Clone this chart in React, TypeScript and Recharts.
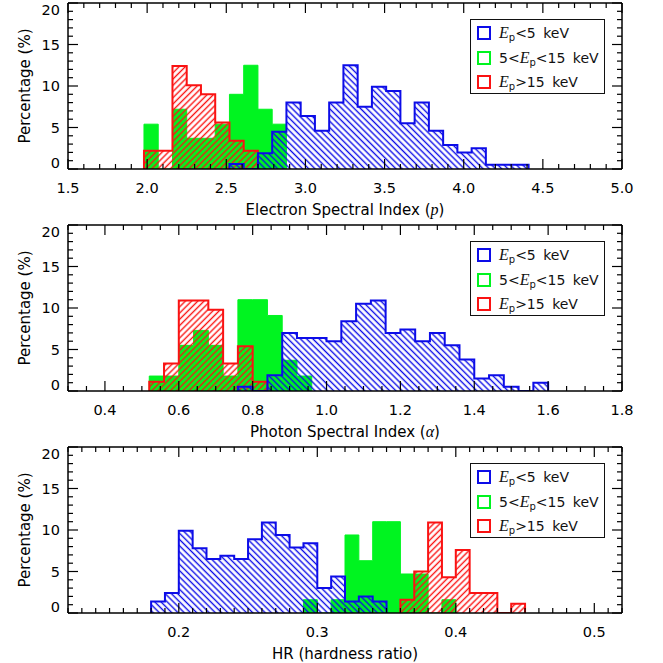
import React from "react";
import { ComposedChart, Area, XAxis, YAxis, Legend } from "recharts";

const BLUE = "#0c0ce8";
const GREEN = "#00f420";
const RED = "#fa1212";
const FONT = "DejaVu Sans";

// percentage axis, shared by all three panels
const Y_MAJOR = [0, 5, 10, 15, 20];
const Y_TICKS = [0, 1, 2, 3, 4, 5, 6, 7, 8, 9, 10, 11, 12, 13, 14, 15, 16, 17, 18, 19, 20];

// electron spectral index p (bin edges, then % per bin; null = bin not drawn)
const P_EDGES = [1.98, 2.07, 2.16, 2.25, 2.34, 2.43, 2.52, 2.61, 2.7, 2.79, 2.88, 2.97, 3.06, 3.15, 3.24, 3.33, 3.42, 3.51, 3.6, 3.69, 3.78, 3.87, 3.96, 4.05, 4.14, 4.23, 4.32, 4.41];
const P_LOW = [null, null, null, null, null, null, 0.6, 0, 1.9, 4.5, 8.0, 6.4, 4.6, 8.0, 12.5, 7.5, 9.9, 9.4, 5.5, 8.0, 4.6, 2.9, 2.0, 2.5, 0.5, 0.5, 0.5];
const P_MID = [5.4, 0, 7.2, 3.7, 3.7, 5.4, 9.0, 12.5, 7.2, 5.4];
const P_HIGH = [2.2, 2.2, 12.4, 10.1, 9.0, 5.6, 3.4, 2.2];
const P_TICKS = [1.5, 2.0, 2.5, 3.0, 3.5, 4.0, 4.5, 5.0];

// photon spectral index alpha
const A_EDGES = [0.52, 0.56, 0.6, 0.64, 0.68, 0.72, 0.76, 0.8, 0.84, 0.88, 0.92, 0.96, 1.0, 1.04, 1.08, 1.12, 1.16, 1.2, 1.24, 1.28, 1.32, 1.36, 1.4, 1.44, 1.48, 1.52, 1.56, 1.6];
const A_LOW = [null, null, null, null, null, null, 0.5, 0, 1.9, 7.0, 6.4, 6.4, 6.0, 8.4, 10.5, 10.9, 7.0, 7.4, 6.0, 7.0, 5.5, 3.8, 1.5, 1.9, 0.5, 0, 1.0];
const A_MID = [1.8, 1.8, 5.5, 7.3, 5.5, 1.8, 11.0, 11.0, 9.1, 3.7, 1.8];
const A_HIGH = [1.1, 3.3, 10.9, 10.9, 9.8, 3.3, 5.4, 1.1];
const A_TICKS = [0.4, 0.6, 0.8, 1.0, 1.2, 1.4, 1.6, 1.8];

// hardness ratio
const HR_EDGES = [0.18, 0.19, 0.2, 0.21, 0.22, 0.23, 0.24, 0.25, 0.26, 0.27, 0.28, 0.29, 0.3, 0.31, 0.32, 0.33, 0.34, 0.35, 0.36, 0.37, 0.38, 0.39, 0.4, 0.41, 0.42, 0.43, 0.44, 0.45];
const HR_LOW = [1.4, 2.4, 9.9, 7.8, 6.5, 6.9, 6.5, 8.9, 10.9, 9.4, 7.9, 8.4, 3.0, 4.4, 1.4, 2.0, 1.4];
const HR_MID = [null, null, null, null, null, null, null, null, null, null, null, 1.6, 0, 1.6, 9.4, 6.3, 11.0, 11.0, 4.7, 4.7, 0, 1.6];
const HR_HIGH = [null, null, null, null, null, null, null, null, null, null, null, null, null, null, null, null, null, null, 1.6, 5.0, 10.9, 4.3, 7.6, 2.4, 2.4, 0, 1.1];
const HR_TICKS = [0.2, 0.3, 0.4, 0.5];

type Pt = { x: number; v: number };

// turn bins into stepAfter points: rise at the first edge, drop at the last
function stepPoints(edges: number[], values: (number | null)[]): Pt[] {
  const first = values.findIndex((v) => v != null);
  let last = values.length - 1;
  while (last > first && values[last] == null) last--;
  const pts: Pt[] = [{ x: edges[first], v: 0 }];
  for (let i = first; i <= last; i++) pts.push({ x: edges[i], v: values[i] as number });
  pts.push({ x: edges[last + 1], v: 0 });
  return pts;
}

function minorTicks(domain: [number, number], step: number) {
  const n = Math.round((domain[1] - domain[0]) / step);
  return Array.from({ length: n + 1 }, (_, i) => +(domain[0] + i * step).toFixed(4));
}

const near = (list: number[], v: number) => list.some((m) => Math.abs(m - v) < 1e-6);

const tickLine = { stroke: "#000", strokeWidth: 1.2 };
const frameLine = { stroke: "#000", strokeWidth: 1.5 };

function Ep() {
  return (
    <>
      <i style={{ fontFamily: "Liberation Serif", fontSize: 16 }}>E</i>
      <sub style={{ fontSize: 10, verticalAlign: -3, lineHeight: 0 }}>p</sub>
    </>
  );
}

const LEGEND_ROWS = [
  { color: BLUE, label: <><Ep />&lt;5 keV</> },
  { color: GREEN, label: <>5&lt;<Ep />&lt;15 keV</> },
  { color: RED, label: <><Ep />&gt;15 keV</> },
];

function LegendBox() {
  return (
    <div
      style={{
        position: "relative",
        width: 135,
        height: 75,
        boxSizing: "border-box",
        border: "1.5px solid #111",
        background: "#fff",
        fontFamily: FONT,
        fontSize: 14,
        color: "#111",
      }}
    >
      {LEGEND_ROWS.map((r, i) => (
        <div
          key={i}
          style={{ position: "absolute", left: 6, top: 5 + i * 24.5, height: 16, display: "flex", alignItems: "center", whiteSpace: "nowrap", wordSpacing: 3 }}
        >
          <span style={{ width: 14, height: 14, boxSizing: "border-box", border: `2.5px solid ${r.color}`, marginRight: 8 }} />
          <span>{r.label}</span>
        </div>
      ))}
    </div>
  );
}

type PanelProps = {
  idx: number;
  edges: number[];
  low: (number | null)[];
  mid: (number | null)[];
  high: (number | null)[];
  domain: [number, number];
  majors: number[];
  minorStep: number;
  title: React.ReactNode;
};

function Panel({ idx, edges, low, mid, high, domain, majors, minorStep, title }: PanelProps) {
  const xTicks = minorTicks(domain, minorStep);
  const lowId = `hatch-low-${idx}`;
  const highId = `hatch-high-${idx}`;

  const bottomTick = (p: any) => {
    const major = near(majors, p.payload.value);
    return (
      <g>
        <line x1={p.x} x2={p.x} y1={p.y} y2={p.y - (major ? 10 : 5)} {...tickLine} />
        {major && (
          <text x={p.x} y={p.y + 24} textAnchor="middle" fontFamily={FONT} fontSize={14.5} fill="#000">
            {p.payload.value.toFixed(1)}
          </text>
        )}
      </g>
    );
  };
  const topTick = (p: any) => {
    const major = near(majors, p.payload.value);
    return <line x1={p.x} x2={p.x} y1={p.y} y2={p.y + (major ? 10 : 5)} {...tickLine} />;
  };
  const leftTick = (p: any) => {
    const v = p.payload.value;
    const major = near(Y_MAJOR, v);
    const shift = v === 0 ? -6 : v === 20 ? 7 : 0;
    return (
      <g>
        <line x1={p.x} x2={p.x + (major ? 10 : 5)} y1={p.y} y2={p.y} {...tickLine} />
        {major && (
          <text x={p.x - 8} y={p.y + shift} dy="0.36em" textAnchor="end" fontFamily={FONT} fontSize={14.5} fill="#000">
            {v}
          </text>
        )}
      </g>
    );
  };
  const rightTick = (p: any) => {
    const major = near(Y_MAJOR, p.payload.value);
    return <line x1={p.x} x2={p.x - (major ? 10 : 5)} y1={p.y} y2={p.y} {...tickLine} />;
  };

  return (
    <div style={{ position: "absolute", left: 0, top: idx * 222 }}>
      <ComposedChart width={663} height={222} margin={{ top: 2, right: 40, bottom: 0, left: 0 }}>
        <defs>
          <pattern id={lowId} patternUnits="userSpaceOnUse" width={4.4} height={4.4} patternTransform="rotate(-45)">
            <line x1={2.2} x2={2.2} y1={0} y2={4.4} stroke={BLUE} strokeWidth={1.4} />
          </pattern>
          <pattern id={highId} patternUnits="userSpaceOnUse" width={4.4} height={4.4} patternTransform="rotate(45)">
            <line x1={2.2} x2={2.2} y1={0} y2={4.4} stroke={RED} strokeWidth={1.4} />
          </pattern>
        </defs>

        <XAxis
          xAxisId="b"
          type="number"
          dataKey="x"
          domain={domain}
          allowDataOverflow
          ticks={xTicks}
          interval={0}
          tickSize={0}
          tickMargin={0}
          height={53}
          axisLine={frameLine}
          tickLine={false}
          tick={bottomTick}
          label={{
            content: (lp: any) => (
              <text
                x={lp.viewBox.x + lp.viewBox.width / 2}
                y={lp.viewBox.y + 46}
                textAnchor="middle"
                fontFamily={FONT}
                fontSize={15}
                fill="#000"
              >
                {title}
              </text>
            ),
          }}
        />
        <XAxis
          xAxisId="t"
          orientation="top"
          type="number"
          dataKey="x"
          domain={domain}
          allowDataOverflow
          ticks={xTicks}
          interval={0}
          tickSize={0}
          tickMargin={0}
          height={1}
          axisLine={frameLine}
          tickLine={false}
          tick={topTick}
        />
        <YAxis
          yAxisId="l"
          type="number"
          domain={[0, 20]}
          allowDataOverflow
          ticks={Y_TICKS}
          interval={0}
          tickSize={0}
          tickMargin={0}
          width={68}
          axisLine={frameLine}
          tickLine={false}
          tick={leftTick}
          label={{
            content: (lp: any) => {
              const cx = 25;
              const cy = lp.viewBox.y + lp.viewBox.height / 2;
              return (
                <text
                  x={cx}
                  y={cy}
                  dy="0.35em"
                  textAnchor="middle"
                  transform={`rotate(-90 ${cx} ${cy})`}
                  fontFamily={FONT}
                  fontSize={15}
                  fill="#000"
                >
                  Percentage (%)
                </text>
              );
            },
          }}
        />
        <YAxis
          yAxisId="r"
          orientation="right"
          type="number"
          domain={[0, 20]}
          allowDataOverflow
          ticks={Y_TICKS}
          interval={0}
          tickSize={0}
          tickMargin={0}
          width={1}
          axisLine={frameLine}
          tickLine={false}
          tick={rightTick}
        />

        <Area
          name="5<Ep<15 keV"
          xAxisId="b"
          yAxisId="l"
          data={stepPoints(edges, mid)}
          dataKey="v"
          type="stepAfter"
          stroke={GREEN}
          strokeWidth={1}
          fill={GREEN}
          fillOpacity={1}
          dot={false}
          activeDot={false}
          isAnimationActive={false}
        />
        <Area
          name="Ep>15 keV"
          xAxisId="b"
          yAxisId="l"
          data={stepPoints(edges, high)}
          dataKey="v"
          type="stepAfter"
          stroke={RED}
          strokeWidth={2}
          fill={`url(#${highId})`}
          fillOpacity={1}
          dot={false}
          activeDot={false}
          isAnimationActive={false}
        />
        <Area
          name="Ep<5 keV"
          xAxisId="b"
          yAxisId="l"
          data={stepPoints(edges, low)}
          dataKey="v"
          type="stepAfter"
          stroke={BLUE}
          strokeWidth={2}
          fill={`url(#${lowId})`}
          fillOpacity={1}
          dot={false}
          activeDot={false}
          isAnimationActive={false}
        />

        <Legend
          layout="horizontal"
          verticalAlign="middle"
          align="center"
          wrapperStyle={{ left: 470, top: 19, width: 135, height: 75 }}
          content={() => <LegendBox />}
        />
      </ComposedChart>
    </div>
  );
}

export default function App() {
  return (
    <div style={{ position: "absolute", left: 0, top: 0, width: 663, height: 663, overflow: "hidden", background: "#fff" }}>
      <Panel
        idx={0}
        edges={P_EDGES}
        low={P_LOW}
        mid={P_MID}
        high={P_HIGH}
        domain={[1.5, 5.0]}
        majors={P_TICKS}
        minorStep={0.1}
        title={
          <>
            Electron Spectral Index (<tspan fontStyle="italic" fontFamily="Liberation Serif" fontSize={16}>p</tspan>)
          </>
        }
      />
      <Panel
        idx={1}
        edges={A_EDGES}
        low={A_LOW}
        mid={A_MID}
        high={A_HIGH}
        domain={[0.3, 1.8]}
        majors={A_TICKS}
        minorStep={0.05}
        title={
          <>
            Photon Spectral Index (<tspan fontStyle="italic" fontFamily="Liberation Serif" fontSize={16}>α</tspan>)
          </>
        }
      />
      <Panel
        idx={2}
        edges={HR_EDGES}
        low={HR_LOW}
        mid={HR_MID}
        high={HR_HIGH}
        domain={[0.12, 0.52]}
        majors={HR_TICKS}
        minorStep={0.01}
        title="HR (hardness ratio)"
      />
    </div>
  );
}
